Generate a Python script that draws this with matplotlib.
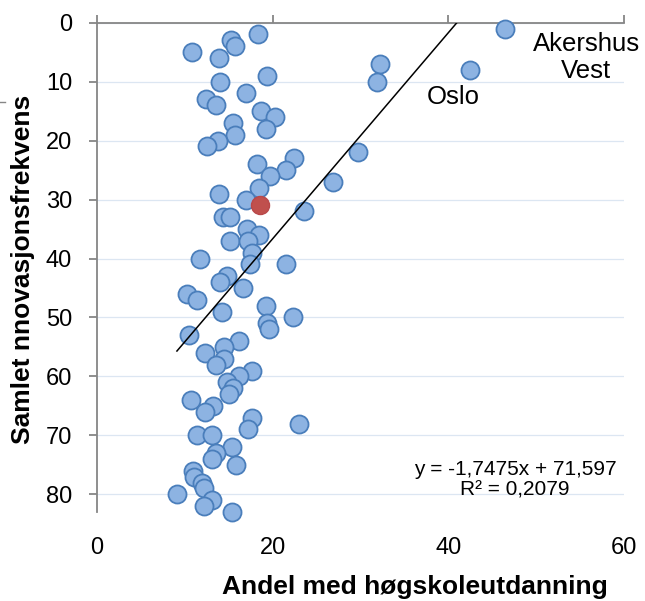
import matplotlib
matplotlib.use("Agg")
import matplotlib.pyplot as plt
from matplotlib.lines import Line2D

plt.rcParams['font.family'] = ['Liberation Sans', 'DejaVu Sans']

# ===========================
# DATA
# ===========================
# share with higher education (%) vs. overall innovation-frequency rank
edu = [46.5, 18.3, 15.3, 15.7, 10.8, 13.9, 32.2, 42.5, 19.3, 14.0, 31.9,
       17.0, 12.4, 13.6, 18.7, 20.3, 15.5, 19.2, 15.7, 13.8, 12.5, 29.7,
       22.4, 18.2, 21.5, 19.7, 26.9, 18.5, 13.9, 17.0, 23.6, 14.3, 15.1,
       17.1, 18.5, 15.1, 17.2, 17.7, 11.7, 17.4, 21.5, 14.8, 14.0, 16.6,
       10.2, 11.4, 19.2, 14.2, 22.3, 19.3, 19.6, 10.5, 16.2, 14.5, 12.3,
       14.5, 13.5, 17.6, 16.2, 14.8, 15.5, 15.0, 10.7, 13.2, 12.3, 17.7,
       23.0, 17.2, 11.4, 13.1, 15.4, 13.6, 13.1, 15.8, 10.9, 11.0, 12.0,
       12.2, 9.1, 13.1, 12.2, 15.4]
rank = [1, 2, 3, 4, 5, 6, 7, 8, 9, 10, 10,
        12, 13, 14, 15, 16, 17, 18, 19, 20, 21, 22,
        23, 24, 25, 26, 27, 28, 29, 30, 32, 33, 33,
        35, 36, 37, 37, 39, 40, 41, 41, 43, 44, 45,
        46, 47, 48, 49, 50, 51, 52, 53, 54, 55, 56,
        57, 58, 59, 60, 61, 62, 63, 64, 65, 66, 67,
        68, 69, 70, 70, 72, 73, 74, 75, 76, 77, 78,
        79, 80, 81, 82, 83]

# highlighted region
hl_edu = [18.6]
hl_rank = [31]

# labelled points
labels = ["Akershus\nVest", "Oslo"]
label_edu = [46.5, 42.5]
label_rank = [1, 8]

# linear trend (as printed on the chart)
SLOPE = -1.7475
INTERCEPT = 71.597
R2 = 0.2079

x_ticks = [0, 20, 40, 60]
y_ticks = [0, 10, 20, 30, 40, 50, 60, 70, 80]

# ===========================
# STYLE
# ===========================
FACE = '#8DB3E2'
EDGE = '#4A7EBB'
RED = '#C0504D'
AXIS_GREY = '#868686'
GRID = '#DCE6F2'

fig = plt.figure(figsize=(6.45, 6.01), dpi=100)
ax = fig.add_axes([97 / 645, 1 - 512 / 601, 527 / 645, (512 - 22.7) / 601])

ax.plot(edu, rank, 'o', ms=13, mfc=FACE, mec=EDGE, mew=1.3, zorder=3, clip_on=False)
ax.plot(hl_edu, hl_rank, 'o', ms=13, mfc=RED, mec='#B9484A', mew=1.0, zorder=4, clip_on=False)

x0, x1 = min(edu), max(edu)
ax.plot([x0, x1], [SLOPE * x0 + INTERCEPT, SLOPE * x1 + INTERCEPT],
        color='black', lw=1.1, zorder=5)

ax.set_xlim(0, 60)
ax.set_ylim(83, 0)
ax.set_xticks(x_ticks)
ax.set_yticks(y_ticks)

ax.grid(axis='y', color=GRID, lw=0.9, zorder=0)
ax.set_axisbelow(True)

for s in ['right', 'bottom']:
    ax.spines[s].set_visible(False)
for s in ['top', 'left']:
    ax.spines[s].set_color(AXIS_GREY)
    ax.spines[s].set_linewidth(1.3)

ax.tick_params(axis='x', top=True, bottom=False, labeltop=False, labelbottom=True,
               direction='out', length=5.5, width=1.3, color=AXIS_GREY,
               labelsize=17, pad=12.5)
ax.tick_params(axis='y', direction='out', length=5.5, width=1.3, color=AXIS_GREY,
               labelsize=17, pad=12.5)

# point labels
offsets = [(81, -29), (-17, -27)]
for txt, xv, yv, off in zip(labels, label_edu, label_rank, offsets):
    ax.annotate(txt, (xv, yv), xytext=off, textcoords='offset pixels',
                ha='center', va='center', fontsize=18.5, linespacing=1.15,
                annotation_clip=False)

# trend equation
ax.text(47.6, 77.5, f"y = {SLOPE:.4f}x + {INTERCEPT:.3f}\nR\u00b2 = {R2:.4f}".replace('.', ','),
        ha='center', va='center', fontsize=15, linespacing=1.1, zorder=6)

fig.text(415 / 645, 1 - 587 / 601, 'Andel med høgskoleutdanning',
         ha='center', va='center', fontsize=19, fontweight='bold')
fig.text(23 / 645, 1 - 269 / 601, 'Samlet nnovasjonsfrekvens', rotation=90,
         ha='center', va='center', fontsize=19, fontweight='bold')

# small grey stub at the left edge
fig.add_artist(Line2D([0, 5 / 645], [1 - 101.5 / 601] * 2, color=AXIS_GREY, lw=1.0))

fig.savefig('out.png', dpi=100)
